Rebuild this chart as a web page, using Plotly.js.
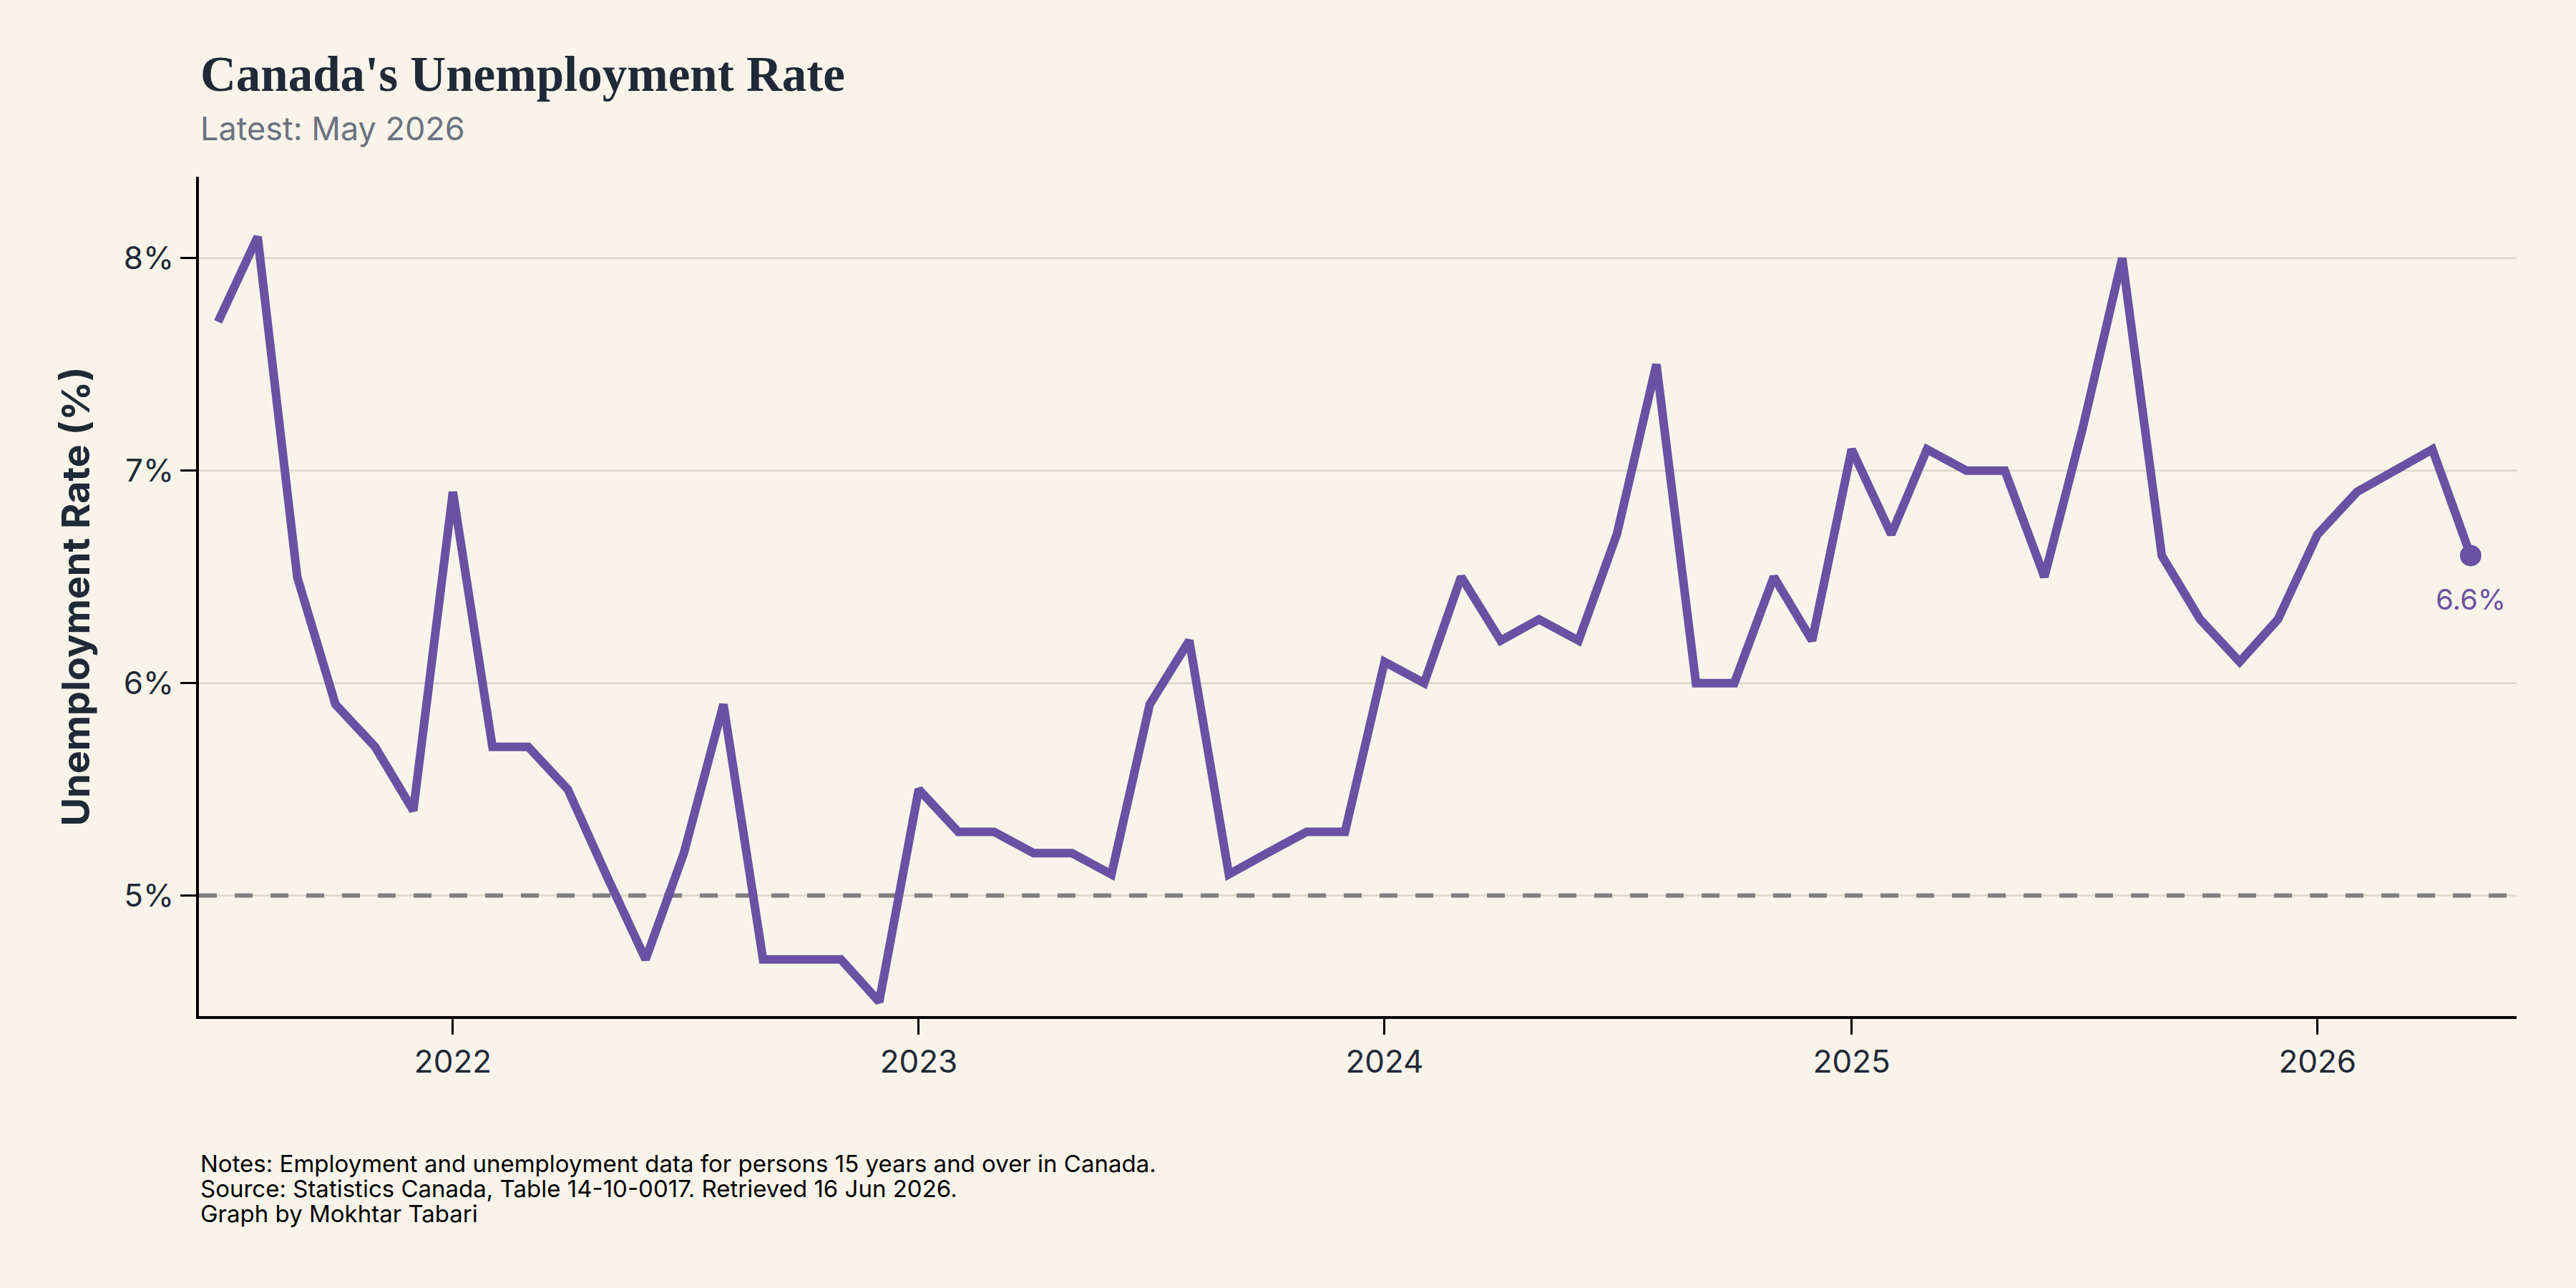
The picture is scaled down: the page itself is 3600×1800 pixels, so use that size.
<!DOCTYPE html>
<html>
<head>
<meta charset="utf-8">
<script src="https://cdn.plot.ly/plotly-3.0.1.min.js"></script>
<style>
  html, body { margin: 0; padding: 0; background: #f8f4ea; }
  #chart { width: 3600px; height: 1800px; }
</style>
</head>
<body>
<div id="chart"></div>
<script>
// Monthly unemployment rate, persons 15 years and over, Canada
const months = [
  '2021-07-01', '2021-08-01', '2021-09-01', '2021-10-01', '2021-11-01', '2021-12-01',
  '2022-01-01', '2022-02-01', '2022-03-01', '2022-04-01', '2022-05-01', '2022-06-01',
  '2022-07-01', '2022-08-01', '2022-09-01', '2022-10-01', '2022-11-01', '2022-12-01',
  '2023-01-01', '2023-02-01', '2023-03-01', '2023-04-01', '2023-05-01', '2023-06-01',
  '2023-07-01', '2023-08-01', '2023-09-01', '2023-10-01', '2023-11-01', '2023-12-01',
  '2024-01-01', '2024-02-01', '2024-03-01', '2024-04-01', '2024-05-01', '2024-06-01',
  '2024-07-01', '2024-08-01', '2024-09-01', '2024-10-01', '2024-11-01', '2024-12-01',
  '2025-01-01', '2025-02-01', '2025-03-01', '2025-04-01', '2025-05-01', '2025-06-01',
  '2025-07-01', '2025-08-01', '2025-09-01', '2025-10-01', '2025-11-01', '2025-12-01',
  '2026-01-01', '2026-02-01', '2026-03-01', '2026-04-01', '2026-05-01'
];

const unemploymentRate = [
  7.7, 8.1, 6.5, 5.9, 5.7, 5.4,
  6.9, 5.7, 5.7, 5.5, 5.1, 4.7,
  5.2, 5.9, 4.7, 4.7, 4.7, 4.5,
  5.5, 5.3, 5.3, 5.2, 5.2, 5.1,
  5.9, 6.2, 5.1, 5.2, 5.3, 5.3,
  6.1, 6.0, 6.5, 6.2, 6.3, 6.2,
  6.7, 7.5, 6.0, 6.0, 6.5, 6.2,
  7.1, 6.7, 7.1, 7.0, 7.0, 6.5,
  7.2, 8.0, 6.6, 6.3, 6.1, 6.3,
  6.7, 6.9, 7.0, 7.1, 6.6
];

const yTickValues = [5, 6, 7, 8];
const referenceRate = 5;

const titleText = "Canada's Unemployment Rate";
const subtitleText = 'Latest: May 2026';
const yAxisTitle = 'Unemployment Rate (%)';
const footnotes = [
  'Notes: Employment and unemployment data for persons 15 years and over in Canada.',
  'Source: Statistics Canada, Table 14-10-0017. Retrieved 16 Jun 2026.',
  'Graph by Mokhtar Tabari'
];

const lineColor = '#6a51a3';
const inkColor = '#1f2937';
const gridColor = '#ddd7c9';
const sansFont = 'Inter, "Noto Sans", sans-serif';

const lastX = months[months.length - 1];
const lastY = unemploymentRate[unemploymentRate.length - 1];

const traces = [
  {
    type: 'scatter',
    mode: 'lines',
    x: months,
    y: unemploymentRate,
    line: { color: lineColor, width: 12 },
    hoverinfo: 'skip',
    showlegend: false
  },
  {
    type: 'scatter',
    mode: 'markers',
    x: [lastX],
    y: [lastY],
    marker: { color: lineColor, size: 30 },
    hoverinfo: 'skip',
    showlegend: false
  }
];

// Plot area spans 278..3517 px horizontally and 247..1420 px vertically
const plotTop = 247, plotBottom = 1420, plotLeft = 278, plotWidth = 3239;
const plotHeight = plotBottom - plotTop;
const py = (px) => (plotBottom - px) / plotHeight;

const annotations = [
  {
    text: '<b>' + titleText + '</b>',
    xref: 'paper', yref: 'paper', x: 0, y: py(104),
    xanchor: 'left', yanchor: 'middle', showarrow: false,
    font: { family: '"Liberation Serif", "DejaVu Serif", serif', size: 69, color: inkColor }
  },
  {
    text: subtitleText,
    xref: 'paper', yref: 'paper', x: 0, y: py(180),
    xanchor: 'left', yanchor: 'middle', showarrow: false,
    font: { family: sansFont, size: 45, color: '#6b7280' }
  },
  {
    text: '<b>' + yAxisTitle + '</b>',
    xref: 'paper', yref: 'paper', x: (105 - plotLeft) / plotWidth, y: 0.5,
    xanchor: 'center', yanchor: 'middle', textangle: -90, showarrow: false,
    font: { family: sansFont, size: 54, color: inkColor }
  },
  {
    text: lastY.toFixed(1) + '%',
    x: lastX, y: lastY, xref: 'x', yref: 'y',
    xanchor: 'center', yanchor: 'middle', yshift: -61, showarrow: false,
    font: { family: sansFont, size: 40, color: lineColor }
  }
];

footnotes.forEach((line, i) => {
  annotations.push({
    text: line,
    xref: 'paper', yref: 'paper', x: 0, y: py(1626 + 35 * i),
    xanchor: 'left', yanchor: 'middle', showarrow: false,
    font: { family: sansFont, size: 33, color: '#000000' }
  });
});

// Horizontal gridlines drawn as shapes so the dashed reference line sits on top of them
const shapes = yTickValues.map(v => ({
  type: 'line', layer: 'below',
  xref: 'paper', x0: 0, x1: 1,
  yref: 'y', y0: v, y1: v,
  line: { color: gridColor, width: 2.5 }
}));
shapes.push({
  type: 'line', layer: 'below',
  xref: 'paper', x0: 0, x1: 1,
  yref: 'y', y0: referenceRate, y1: referenceRate,
  line: { color: '#7f7f7f', width: 6, dash: '25px,25px' }
});

const layout = {
  width: 3600,
  height: 1800,
  paper_bgcolor: '#f8f4ea',
  plot_bgcolor: '#f8f4ea',
  margin: { l: 278, r: 83, t: 247, b: 380, pad: 0 },
  showlegend: false,
  xaxis: {
    type: 'date',
    range: ['2021-06-16', '2026-06-06'],
    tick0: '2022-01-01',
    dtick: 'M12',
    tickformat: '%Y',
    showgrid: false,
    zeroline: false,
    showline: true,
    linecolor: '#000000',
    linewidth: 4,
    ticks: 'outside',
    ticklen: 22,
    tickwidth: 3,
    tickcolor: '#000000',
    tickfont: { family: sansFont, size: 44, color: inkColor },
    automargin: false
  },
  yaxis: {
    range: [4.433, 8.383],
    tickvals: yTickValues,
    ticktext: yTickValues.map(v => v + '%'),
    showgrid: false,
    zeroline: false,
    showline: true,
    linecolor: '#000000',
    linewidth: 4,
    ticks: 'outside',
    ticklen: 22,
    tickwidth: 3,
    tickcolor: '#000000',
    tickfont: { family: sansFont, size: 44, color: inkColor },
    automargin: false
  },
  shapes: shapes,
  annotations: annotations
};

Plotly.newPlot('chart', traces, layout, { staticPlot: true, displayModeBar: false });
</script>
</body>
</html>
